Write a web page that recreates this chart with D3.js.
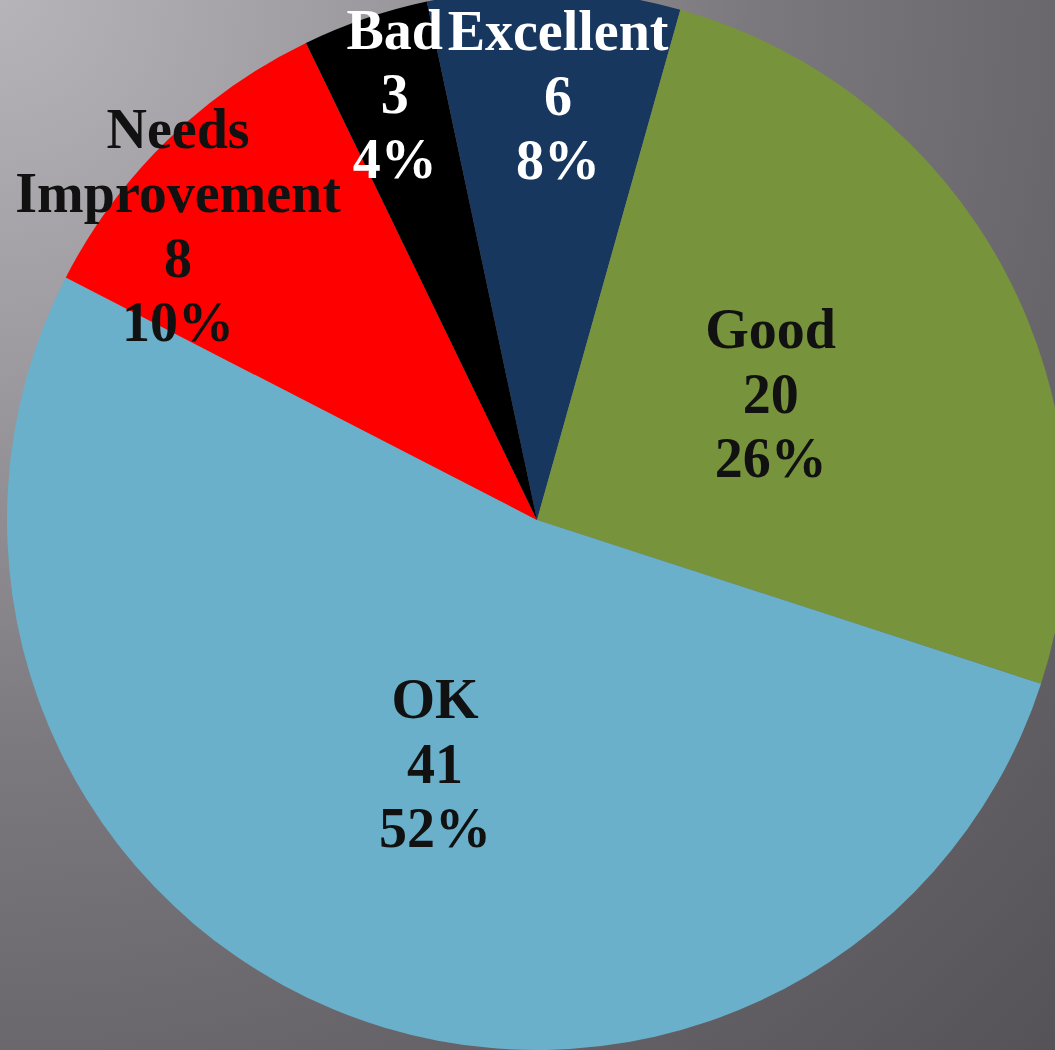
<!DOCTYPE html>
<html>
<head>
<meta charset="utf-8">
<script src="https://cdn.jsdelivr.net/npm/d3@7"></script>
<style>
  html, body { margin: 0; padding: 0; overflow: hidden; }
  .label { font-family: "Liberation Serif", "Times New Roman", serif; font-weight: bold; }
</style>
</head>
<body>
<div class="chart"></div>
<script>
// data
const categories = ["Excellent", "Good", "OK", "Needs Improvement", "Bad"];
const values = [6, 20, 41, 8, 3];
const percentLabels = ["8%", "26%", "52%", "10%", "4%"];
const colors = ["#17375E", "#77933C", "#6AB0CA", "#FF0000", "#000000"];
const textColors = ["#ffffff", "#111111", "#111111", "#111111", "#ffffff"];

// label placement (fraction of radius, angle nudge in degrees)
const labelLayout = {
  "Excellent": {r: 0.80, shift: 1},
  "Good": {r: 0.50, shift: 0},
  "OK": {r: 0.50, shift: 0},
  "Needs Improvement": {r: 0.875, shift: -6.4},
  "Bad": {r: 0.845, shift: 0.4}
};

const width = 1055;
const height = 1050;
const cx = 537, cy = 520;
const radius = 530;
const lineH = 64.5;

const svg = d3.select(".chart")
  .append("svg")
  .attr("width", width)
  .attr("height", height);

// background gradient
const defs = svg.append("defs");
const grad = defs.append("radialGradient")
  .attr("id", "bg")
  .attr("gradientUnits", "userSpaceOnUse")
  .attr("cx", 0).attr("cy", 0).attr("r", 1500);
grad.append("stop").attr("offset", 0).attr("stop-color", "#b6b4b9");
grad.append("stop").attr("offset", 0.25).attr("stop-color", "#9c9a9f");
grad.append("stop").attr("offset", 0.5).attr("stop-color", "#7b797e");
grad.append("stop").attr("offset", 0.72).attr("stop-color", "#68666b");
grad.append("stop").attr("offset", 1).attr("stop-color", "#545257");

svg.append("rect")
  .attr("width", width)
  .attr("height", height)
  .attr("fill", "url(#bg)");

const data = categories.map((c, i) => ({
  name: c, value: values[i], pct: percentLabels[i], color: colors[i], text: textColors[i]
}));

const start = -12 * Math.PI / 180;
const pie = d3.pie()
  .sort(null)
  .value(d => d.value)
  .startAngle(start)
  .endAngle(start + 2 * Math.PI);

const arc = d3.arc().innerRadius(0).outerRadius(radius);

const g = svg.append("g")
  .attr("transform", `translate(${cx},${cy})`);

const arcs = pie(data);

g.selectAll("path.slice")
  .data(arcs)
  .enter()
  .append("path")
  .attr("class", "slice")
  .attr("d", arc)
  .attr("fill", d => d.data.color);

// labels
arcs.forEach(d => {
  const lay = labelLayout[d.data.name];
  const a = (d.startAngle + d.endAngle) / 2 + lay.shift * Math.PI / 180;
  const r = radius * lay.r;
  const x = Math.sin(a) * r;
  const y = -Math.cos(a) * r;

  let lines = d.data.name == "Needs Improvement" ? ["Needs", "Improvement"] : [d.data.name];
  lines = lines.concat([String(d.data.value), d.data.pct]);

  const first = y - (lines.length - 1) / 2 * lineH + 18;
  const t = g.append("text")
    .attr("class", "label")
    .attr("text-anchor", "middle")
    .attr("font-size", 56)
    .attr("fill", d.data.text);
  lines.forEach((ln, i) => {
    t.append("tspan")
      .attr("x", x)
      .attr("y", first + i * lineH)
      .text(ln);
  });
});
</script>
</body>
</html>
